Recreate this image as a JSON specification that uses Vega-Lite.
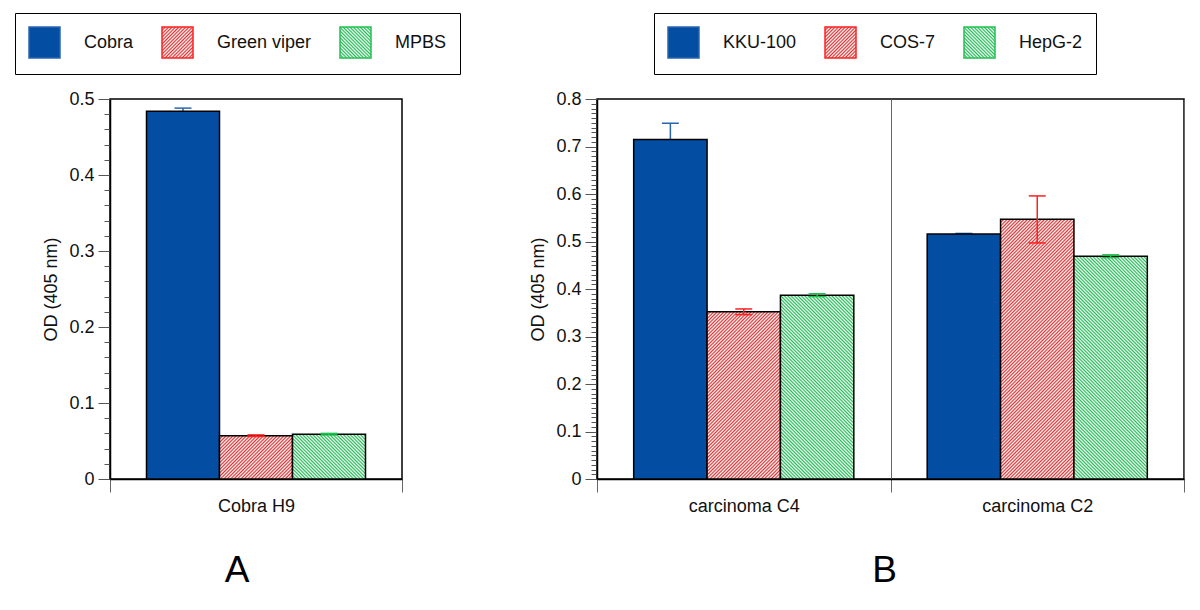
{
"$schema": "https://vega.github.io/schema/vega-lite/v6.json",
"padding": {"left": 13, "top": 11, "right": 4, "bottom": 4},
"params": [
{"name": "redS", "value": [
{"offset":0,"color":"#d33"},{"offset":0.005,"color":"#fff"},{"offset":0.01,"color":"#d33"},{"offset":0.015,"color":"#fff"},{"offset":0.02,"color":"#d33"},{"offset":0.025,"color":"#fff"},{"offset":0.03,"color":"#d33"},{"offset":0.035,"color":"#fff"},{"offset":0.04,"color":"#d33"},{"offset":0.045,"color":"#fff"},
{"offset":0.05,"color":"#d33"},{"offset":0.055,"color":"#fff"},{"offset":0.06,"color":"#d33"},{"offset":0.065,"color":"#fff"},{"offset":0.07,"color":"#d33"},{"offset":0.075,"color":"#fff"},{"offset":0.08,"color":"#d33"},{"offset":0.085,"color":"#fff"},{"offset":0.09,"color":"#d33"},{"offset":0.095,"color":"#fff"},
{"offset":0.1,"color":"#d33"},{"offset":0.105,"color":"#fff"},{"offset":0.11,"color":"#d33"},{"offset":0.115,"color":"#fff"},{"offset":0.12,"color":"#d33"},{"offset":0.125,"color":"#fff"},{"offset":0.13,"color":"#d33"},{"offset":0.135,"color":"#fff"},{"offset":0.14,"color":"#d33"},{"offset":0.145,"color":"#fff"},
{"offset":0.15,"color":"#d33"},{"offset":0.155,"color":"#fff"},{"offset":0.16,"color":"#d33"},{"offset":0.165,"color":"#fff"},{"offset":0.17,"color":"#d33"},{"offset":0.175,"color":"#fff"},{"offset":0.18,"color":"#d33"},{"offset":0.185,"color":"#fff"},{"offset":0.19,"color":"#d33"},{"offset":0.195,"color":"#fff"},
{"offset":0.2,"color":"#d33"},{"offset":0.205,"color":"#fff"},{"offset":0.21,"color":"#d33"},{"offset":0.215,"color":"#fff"},{"offset":0.22,"color":"#d33"},{"offset":0.225,"color":"#fff"},{"offset":0.23,"color":"#d33"},{"offset":0.235,"color":"#fff"},{"offset":0.24,"color":"#d33"},{"offset":0.245,"color":"#fff"},
{"offset":0.25,"color":"#d33"},{"offset":0.255,"color":"#fff"},{"offset":0.26,"color":"#d33"},{"offset":0.265,"color":"#fff"},{"offset":0.27,"color":"#d33"},{"offset":0.275,"color":"#fff"},{"offset":0.28,"color":"#d33"},{"offset":0.285,"color":"#fff"},{"offset":0.29,"color":"#d33"},{"offset":0.295,"color":"#fff"},
{"offset":0.3,"color":"#d33"},{"offset":0.305,"color":"#fff"},{"offset":0.31,"color":"#d33"},{"offset":0.315,"color":"#fff"},{"offset":0.32,"color":"#d33"},{"offset":0.325,"color":"#fff"},{"offset":0.33,"color":"#d33"},{"offset":0.335,"color":"#fff"},{"offset":0.34,"color":"#d33"},{"offset":0.345,"color":"#fff"},
{"offset":0.35,"color":"#d33"},{"offset":0.355,"color":"#fff"},{"offset":0.36,"color":"#d33"},{"offset":0.365,"color":"#fff"},{"offset":0.37,"color":"#d33"},{"offset":0.375,"color":"#fff"},{"offset":0.38,"color":"#d33"},{"offset":0.385,"color":"#fff"},{"offset":0.39,"color":"#d33"},{"offset":0.395,"color":"#fff"},
{"offset":0.4,"color":"#d33"},{"offset":0.405,"color":"#fff"},{"offset":0.41,"color":"#d33"},{"offset":0.415,"color":"#fff"},{"offset":0.42,"color":"#d33"},{"offset":0.425,"color":"#fff"},{"offset":0.43,"color":"#d33"},{"offset":0.435,"color":"#fff"},{"offset":0.44,"color":"#d33"},{"offset":0.445,"color":"#fff"},
{"offset":0.45,"color":"#d33"},{"offset":0.455,"color":"#fff"},{"offset":0.46,"color":"#d33"},{"offset":0.465,"color":"#fff"},{"offset":0.47,"color":"#d33"},{"offset":0.475,"color":"#fff"},{"offset":0.48,"color":"#d33"},{"offset":0.485,"color":"#fff"},{"offset":0.49,"color":"#d33"},{"offset":0.495,"color":"#fff"},
{"offset":0.5,"color":"#d33"},{"offset":0.505,"color":"#fff"},{"offset":0.51,"color":"#d33"},{"offset":0.515,"color":"#fff"},{"offset":0.52,"color":"#d33"},{"offset":0.525,"color":"#fff"},{"offset":0.53,"color":"#d33"},{"offset":0.535,"color":"#fff"},{"offset":0.54,"color":"#d33"},{"offset":0.545,"color":"#fff"},
{"offset":0.55,"color":"#d33"},{"offset":0.555,"color":"#fff"},{"offset":0.56,"color":"#d33"},{"offset":0.565,"color":"#fff"},{"offset":0.57,"color":"#d33"},{"offset":0.575,"color":"#fff"},{"offset":0.58,"color":"#d33"},{"offset":0.585,"color":"#fff"},{"offset":0.59,"color":"#d33"},{"offset":0.595,"color":"#fff"},
{"offset":0.6,"color":"#d33"},{"offset":0.605,"color":"#fff"},{"offset":0.61,"color":"#d33"},{"offset":0.615,"color":"#fff"},{"offset":0.62,"color":"#d33"},{"offset":0.625,"color":"#fff"},{"offset":0.63,"color":"#d33"},{"offset":0.635,"color":"#fff"},{"offset":0.64,"color":"#d33"},{"offset":0.645,"color":"#fff"},
{"offset":0.65,"color":"#d33"},{"offset":0.655,"color":"#fff"},{"offset":0.66,"color":"#d33"},{"offset":0.665,"color":"#fff"},{"offset":0.67,"color":"#d33"},{"offset":0.675,"color":"#fff"},{"offset":0.68,"color":"#d33"},{"offset":0.685,"color":"#fff"},{"offset":0.69,"color":"#d33"},{"offset":0.695,"color":"#fff"},
{"offset":0.7,"color":"#d33"},{"offset":0.705,"color":"#fff"},{"offset":0.71,"color":"#d33"},{"offset":0.715,"color":"#fff"},{"offset":0.72,"color":"#d33"},{"offset":0.725,"color":"#fff"},{"offset":0.73,"color":"#d33"},{"offset":0.735,"color":"#fff"},{"offset":0.74,"color":"#d33"},{"offset":0.745,"color":"#fff"},
{"offset":0.75,"color":"#d33"},{"offset":0.755,"color":"#fff"},{"offset":0.76,"color":"#d33"},{"offset":0.765,"color":"#fff"},{"offset":0.77,"color":"#d33"},{"offset":0.775,"color":"#fff"},{"offset":0.78,"color":"#d33"},{"offset":0.785,"color":"#fff"},{"offset":0.79,"color":"#d33"},{"offset":0.795,"color":"#fff"},
{"offset":0.8,"color":"#d33"},{"offset":0.805,"color":"#fff"},{"offset":0.81,"color":"#d33"},{"offset":0.815,"color":"#fff"},{"offset":0.82,"color":"#d33"},{"offset":0.825,"color":"#fff"},{"offset":0.83,"color":"#d33"},{"offset":0.835,"color":"#fff"},{"offset":0.84,"color":"#d33"},{"offset":0.845,"color":"#fff"},
{"offset":0.85,"color":"#d33"},{"offset":0.855,"color":"#fff"},{"offset":0.86,"color":"#d33"},{"offset":0.865,"color":"#fff"},{"offset":0.87,"color":"#d33"},{"offset":0.875,"color":"#fff"},{"offset":0.88,"color":"#d33"},{"offset":0.885,"color":"#fff"},{"offset":0.89,"color":"#d33"},{"offset":0.895,"color":"#fff"},
{"offset":0.9,"color":"#d33"},{"offset":0.905,"color":"#fff"},{"offset":0.91,"color":"#d33"},{"offset":0.915,"color":"#fff"},{"offset":0.92,"color":"#d33"},{"offset":0.925,"color":"#fff"},{"offset":0.93,"color":"#d33"},{"offset":0.935,"color":"#fff"},{"offset":0.94,"color":"#d33"},{"offset":0.945,"color":"#fff"},
{"offset":0.95,"color":"#d33"},{"offset":0.955,"color":"#fff"},{"offset":0.96,"color":"#d33"},{"offset":0.965,"color":"#fff"},{"offset":0.97,"color":"#d33"},{"offset":0.975,"color":"#fff"},{"offset":0.98,"color":"#d33"},{"offset":0.985,"color":"#fff"},{"offset":0.99,"color":"#d33"},{"offset":0.995,"color":"#fff"},
{"offset":1,"color":"#d33"}
]},
{"name": "grnS", "value": [
{"offset":0,"color":"#2b5"},{"offset":0.005,"color":"#fff"},{"offset":0.01,"color":"#2b5"},{"offset":0.015,"color":"#fff"},{"offset":0.02,"color":"#2b5"},{"offset":0.025,"color":"#fff"},{"offset":0.03,"color":"#2b5"},{"offset":0.035,"color":"#fff"},{"offset":0.04,"color":"#2b5"},{"offset":0.045,"color":"#fff"},
{"offset":0.05,"color":"#2b5"},{"offset":0.055,"color":"#fff"},{"offset":0.06,"color":"#2b5"},{"offset":0.065,"color":"#fff"},{"offset":0.07,"color":"#2b5"},{"offset":0.075,"color":"#fff"},{"offset":0.08,"color":"#2b5"},{"offset":0.085,"color":"#fff"},{"offset":0.09,"color":"#2b5"},{"offset":0.095,"color":"#fff"},
{"offset":0.1,"color":"#2b5"},{"offset":0.105,"color":"#fff"},{"offset":0.11,"color":"#2b5"},{"offset":0.115,"color":"#fff"},{"offset":0.12,"color":"#2b5"},{"offset":0.125,"color":"#fff"},{"offset":0.13,"color":"#2b5"},{"offset":0.135,"color":"#fff"},{"offset":0.14,"color":"#2b5"},{"offset":0.145,"color":"#fff"},
{"offset":0.15,"color":"#2b5"},{"offset":0.155,"color":"#fff"},{"offset":0.16,"color":"#2b5"},{"offset":0.165,"color":"#fff"},{"offset":0.17,"color":"#2b5"},{"offset":0.175,"color":"#fff"},{"offset":0.18,"color":"#2b5"},{"offset":0.185,"color":"#fff"},{"offset":0.19,"color":"#2b5"},{"offset":0.195,"color":"#fff"},
{"offset":0.2,"color":"#2b5"},{"offset":0.205,"color":"#fff"},{"offset":0.21,"color":"#2b5"},{"offset":0.215,"color":"#fff"},{"offset":0.22,"color":"#2b5"},{"offset":0.225,"color":"#fff"},{"offset":0.23,"color":"#2b5"},{"offset":0.235,"color":"#fff"},{"offset":0.24,"color":"#2b5"},{"offset":0.245,"color":"#fff"},
{"offset":0.25,"color":"#2b5"},{"offset":0.255,"color":"#fff"},{"offset":0.26,"color":"#2b5"},{"offset":0.265,"color":"#fff"},{"offset":0.27,"color":"#2b5"},{"offset":0.275,"color":"#fff"},{"offset":0.28,"color":"#2b5"},{"offset":0.285,"color":"#fff"},{"offset":0.29,"color":"#2b5"},{"offset":0.295,"color":"#fff"},
{"offset":0.3,"color":"#2b5"},{"offset":0.305,"color":"#fff"},{"offset":0.31,"color":"#2b5"},{"offset":0.315,"color":"#fff"},{"offset":0.32,"color":"#2b5"},{"offset":0.325,"color":"#fff"},{"offset":0.33,"color":"#2b5"},{"offset":0.335,"color":"#fff"},{"offset":0.34,"color":"#2b5"},{"offset":0.345,"color":"#fff"},
{"offset":0.35,"color":"#2b5"},{"offset":0.355,"color":"#fff"},{"offset":0.36,"color":"#2b5"},{"offset":0.365,"color":"#fff"},{"offset":0.37,"color":"#2b5"},{"offset":0.375,"color":"#fff"},{"offset":0.38,"color":"#2b5"},{"offset":0.385,"color":"#fff"},{"offset":0.39,"color":"#2b5"},{"offset":0.395,"color":"#fff"},
{"offset":0.4,"color":"#2b5"},{"offset":0.405,"color":"#fff"},{"offset":0.41,"color":"#2b5"},{"offset":0.415,"color":"#fff"},{"offset":0.42,"color":"#2b5"},{"offset":0.425,"color":"#fff"},{"offset":0.43,"color":"#2b5"},{"offset":0.435,"color":"#fff"},{"offset":0.44,"color":"#2b5"},{"offset":0.445,"color":"#fff"},
{"offset":0.45,"color":"#2b5"},{"offset":0.455,"color":"#fff"},{"offset":0.46,"color":"#2b5"},{"offset":0.465,"color":"#fff"},{"offset":0.47,"color":"#2b5"},{"offset":0.475,"color":"#fff"},{"offset":0.48,"color":"#2b5"},{"offset":0.485,"color":"#fff"},{"offset":0.49,"color":"#2b5"},{"offset":0.495,"color":"#fff"},
{"offset":0.5,"color":"#2b5"},{"offset":0.505,"color":"#fff"},{"offset":0.51,"color":"#2b5"},{"offset":0.515,"color":"#fff"},{"offset":0.52,"color":"#2b5"},{"offset":0.525,"color":"#fff"},{"offset":0.53,"color":"#2b5"},{"offset":0.535,"color":"#fff"},{"offset":0.54,"color":"#2b5"},{"offset":0.545,"color":"#fff"},
{"offset":0.55,"color":"#2b5"},{"offset":0.555,"color":"#fff"},{"offset":0.56,"color":"#2b5"},{"offset":0.565,"color":"#fff"},{"offset":0.57,"color":"#2b5"},{"offset":0.575,"color":"#fff"},{"offset":0.58,"color":"#2b5"},{"offset":0.585,"color":"#fff"},{"offset":0.59,"color":"#2b5"},{"offset":0.595,"color":"#fff"},
{"offset":0.6,"color":"#2b5"},{"offset":0.605,"color":"#fff"},{"offset":0.61,"color":"#2b5"},{"offset":0.615,"color":"#fff"},{"offset":0.62,"color":"#2b5"},{"offset":0.625,"color":"#fff"},{"offset":0.63,"color":"#2b5"},{"offset":0.635,"color":"#fff"},{"offset":0.64,"color":"#2b5"},{"offset":0.645,"color":"#fff"},
{"offset":0.65,"color":"#2b5"},{"offset":0.655,"color":"#fff"},{"offset":0.66,"color":"#2b5"},{"offset":0.665,"color":"#fff"},{"offset":0.67,"color":"#2b5"},{"offset":0.675,"color":"#fff"},{"offset":0.68,"color":"#2b5"},{"offset":0.685,"color":"#fff"},{"offset":0.69,"color":"#2b5"},{"offset":0.695,"color":"#fff"},
{"offset":0.7,"color":"#2b5"},{"offset":0.705,"color":"#fff"},{"offset":0.71,"color":"#2b5"},{"offset":0.715,"color":"#fff"},{"offset":0.72,"color":"#2b5"},{"offset":0.725,"color":"#fff"},{"offset":0.73,"color":"#2b5"},{"offset":0.735,"color":"#fff"},{"offset":0.74,"color":"#2b5"},{"offset":0.745,"color":"#fff"},
{"offset":0.75,"color":"#2b5"},{"offset":0.755,"color":"#fff"},{"offset":0.76,"color":"#2b5"},{"offset":0.765,"color":"#fff"},{"offset":0.77,"color":"#2b5"},{"offset":0.775,"color":"#fff"},{"offset":0.78,"color":"#2b5"},{"offset":0.785,"color":"#fff"},{"offset":0.79,"color":"#2b5"},{"offset":0.795,"color":"#fff"},
{"offset":0.8,"color":"#2b5"},{"offset":0.805,"color":"#fff"},{"offset":0.81,"color":"#2b5"},{"offset":0.815,"color":"#fff"},{"offset":0.82,"color":"#2b5"},{"offset":0.825,"color":"#fff"},{"offset":0.83,"color":"#2b5"},{"offset":0.835,"color":"#fff"},{"offset":0.84,"color":"#2b5"},{"offset":0.845,"color":"#fff"},
{"offset":0.85,"color":"#2b5"},{"offset":0.855,"color":"#fff"},{"offset":0.86,"color":"#2b5"},{"offset":0.865,"color":"#fff"},{"offset":0.87,"color":"#2b5"},{"offset":0.875,"color":"#fff"},{"offset":0.88,"color":"#2b5"},{"offset":0.885,"color":"#fff"},{"offset":0.89,"color":"#2b5"},{"offset":0.895,"color":"#fff"},
{"offset":0.9,"color":"#2b5"},{"offset":0.905,"color":"#fff"},{"offset":0.91,"color":"#2b5"},{"offset":0.915,"color":"#fff"},{"offset":0.92,"color":"#2b5"},{"offset":0.925,"color":"#fff"},{"offset":0.93,"color":"#2b5"},{"offset":0.935,"color":"#fff"},{"offset":0.94,"color":"#2b5"},{"offset":0.945,"color":"#fff"},
{"offset":0.95,"color":"#2b5"},{"offset":0.955,"color":"#fff"},{"offset":0.96,"color":"#2b5"},{"offset":0.965,"color":"#fff"},{"offset":0.97,"color":"#2b5"},{"offset":0.975,"color":"#fff"},{"offset":0.98,"color":"#2b5"},{"offset":0.985,"color":"#fff"},{"offset":0.99,"color":"#2b5"},{"offset":0.995,"color":"#fff"},
{"offset":1,"color":"#2b5"}
]}
],
"spacing": 195,
"bounds": "flush",
"resolve": {
  "scale": {"x": "independent", "y": "independent", "xOffset": "independent", "fill": "independent", "color": "independent"},
  "legend": {"fill": "independent"}
},
"hconcat": [
{
  "width": 292,
  "height": 380,
  "title": {"text": "A", "orient": "bottom", "anchor": "middle", "frame": "group", "fontSize": 37, "fontWeight": "normal", "font": "Liberation Sans", "color": "black", "offset": 38, "dx": -19},
  "data": {"values": [
    {"group": "Cobra H9", "series": "Cobra", "od": 0.484, "lo": 0.480, "hi": 0.488},
    {"group": "Cobra H9", "series": "Green viper", "od": 0.057, "lo": 0.056, "hi": 0.058},
    {"group": "Cobra H9", "series": "MPBS", "od": 0.059, "lo": 0.058, "hi": 0.060}
  ]},
  "encoding": {
    "x": {"field": "group", "type": "nominal", "scale": {"paddingInner": 0, "paddingOuter": 0},
      "axis": {"title": null, "labelAngle": 0, "tickBand": "extent", "tickSize": 13, "labelPadding": 5, "grid": false, "tickColor": "#666", "domainColor": "black", "domainWidth": 1.5}},
    "xOffset": {"field": "series", "type": "nominal", "scale": {"domain": ["Cobra", "Green viper", "MPBS"], "paddingInner": 0, "paddingOuter": 0.5}}
  },
  "layer": [
    {
      "mark": {"type": "bar"},
      "encoding": {
        "y": {"field": "od", "type": "quantitative", "scale": {"domain": [0, 0.5], "nice": false},
          "axis": {"title": "OD (405 nm)", "tickCount": 200, "values": [0,0.02,0.04,0.06,0.08,0.1,0.12,0.14,0.16,0.18,0.2,0.22,0.24,0.26,0.28,0.3,0.32,0.34,0.36,0.38,0.4,0.42,0.44,0.46,0.48,0.5],
            "labelExpr": "abs(datum.value*10-round(datum.value*10))<0.001 ? (datum.value<0.001 ? '0' : format(datum.value,'.1f')) : ''",
            "tickSize": {"condition": {"test": "abs(datum.value*10-round(datum.value*10))<0.001", "value": 12}, "value": 6},
            "labelPadding": 4, "titlePadding": 8, "grid": false, "labelOverlap": false, "labelFlush": false, "domainColor": "black", "domainWidth": 1.5, "tickColor": "#555"}},
        "fill": {"field": "series", "type": "nominal",
          "scale": {"domain": ["Cobra", "Green viper", "MPBS"], "range": ["#034ea2", {"expr": "{gradient:'linear', x1:0, y1:0, x2:5.484, y2:5.484, stops:redS}"}, {"expr": "{gradient:'linear', x1:0, y1:1, x2:5.484, y2:-4.484, stops:grnS}"}]},
          "legend": {"title": null, "legendX": -95, "legendY": -86}}
      }
    },
    {
      "transform": [{"filter": "datum.series == 'Cobra'"}],
      "mark": {"type": "rule", "strokeWidth": 1.5},
      "encoding": {
        "y": {"field": "lo", "type": "quantitative"},
        "y2": {"field": "hi"},
        "color": {"field": "series", "type": "nominal", "scale": {"domain": ["Cobra", "Green viper", "MPBS"], "range": ["#2a66b0", "#ff2020", "#20c050"]}, "legend": null}
      }
    },
    {
      "transform": [{"filter": "datum.series == 'Cobra'"}],
      "mark": {"type": "tick", "size": 17, "thickness": 1.5, "opacity": 1},
      "encoding": {
        "y": {"field": "hi", "type": "quantitative"},
        "color": {"field": "series", "type": "nominal", "legend": null}
      }
    },
    {
      "mark": {"type": "bar", "stroke": "black", "strokeWidth": 1.5},
      "encoding": {
        "y": {"field": "od", "type": "quantitative"},
        "fill": {"value": {"expr": "datum.series=='Cobra' ? '#034ea2' : {gradient:'linear', x1:0, y1:(datum.series=='MPBS' ? 1 : 0), x2:24820/(5329+pow(760*datum.od,2)), y2:(datum.series=='MPBS' ? 1-258400*datum.od/(5329+pow(760*datum.od,2)) : 258400*datum.od/(5329+pow(760*datum.od,2))), stops:(datum.series=='MPBS' ? grnS : redS)}"}}
      }
    },
    {
      "transform": [{"filter": "datum.series != 'Cobra'"}],
      "mark": {"type": "rule", "strokeWidth": 1.5},
      "encoding": {
        "y": {"field": "lo", "type": "quantitative"},
        "y2": {"field": "hi"},
        "color": {"field": "series", "type": "nominal", "legend": null}
      }
    },
    {
      "transform": [{"filter": "datum.series != 'Cobra'"}],
      "mark": {"type": "tick", "size": 17, "thickness": 1.5, "opacity": 1},
      "encoding": {
        "y": {"field": "lo", "type": "quantitative"},
        "color": {"field": "series", "type": "nominal", "legend": null}
      }
    },
    {
      "transform": [{"filter": "datum.series != 'Cobra'"}],
      "mark": {"type": "tick", "size": 17, "thickness": 1.5, "opacity": 1},
      "encoding": {
        "y": {"field": "hi", "type": "quantitative"},
        "color": {"field": "series", "type": "nominal", "legend": null}
      }
    }
  ]
},
{
  "width": 587,
  "height": 380,
  "title": {"text": "B", "orient": "bottom", "anchor": "middle", "frame": "group", "fontSize": 37, "fontWeight": "normal", "font": "Liberation Sans", "color": "black", "offset": 38, "dx": -6},
  "data": {"values": [
    {"group": "carcinoma C4", "series": "KKU-100", "od": 0.715, "lo": 0.681, "hi": 0.749},
    {"group": "carcinoma C4", "series": "COS-7", "od": 0.352, "lo": 0.346, "hi": 0.358},
    {"group": "carcinoma C4", "series": "HepG-2", "od": 0.387, "lo": 0.384, "hi": 0.390},
    {"group": "carcinoma C2", "series": "KKU-100", "od": 0.516, "lo": 0.515, "hi": 0.517},
    {"group": "carcinoma C2", "series": "COS-7", "od": 0.547, "lo": 0.497, "hi": 0.596},
    {"group": "carcinoma C2", "series": "HepG-2", "od": 0.469, "lo": 0.466, "hi": 0.472}
  ]},
  "encoding": {
    "x": {"field": "group", "type": "nominal", "sort": ["carcinoma C4", "carcinoma C2"], "scale": {"paddingInner": 0, "paddingOuter": 0},
      "axis": {"title": null, "labelAngle": 0, "tickBand": "extent", "tickSize": 13, "labelPadding": 5, "grid": true, "gridColor": "#666", "gridWidth": 1, "tickColor": "#666", "domainColor": "black", "domainWidth": 1.5}},
    "xOffset": {"field": "series", "type": "nominal", "scale": {"domain": ["KKU-100", "COS-7", "HepG-2"], "paddingInner": 0, "paddingOuter": 0.5}}
  },
  "layer": [
    {
      "mark": {"type": "bar"},
      "encoding": {
        "y": {"field": "od", "type": "quantitative", "scale": {"domain": [0, 0.8], "nice": false},
          "axis": {"title": "OD (405 nm)", "tickCount": 200, "values": [0,0.01,0.02,0.03,0.04,0.05,0.06,0.07,0.08,0.09,0.1,0.11,0.12,0.13,0.14,0.15,0.16,0.17,0.18,0.19,0.2,0.21,0.22,0.23,0.24,0.25,0.26,0.27,0.28,0.29,0.3,0.31,0.32,0.33,0.34,0.35,0.36,0.37,0.38,0.39,0.4,0.41,0.42,0.43,0.44,0.45,0.46,0.47,0.48,0.49,0.5,0.51,0.52,0.53,0.54,0.55,0.56,0.57,0.58,0.59,0.6,0.61,0.62,0.63,0.64,0.65,0.66,0.67,0.68,0.69,0.7,0.71,0.72,0.73,0.74,0.75,0.76,0.77,0.78,0.79,0.8],
            "labelExpr": "abs(datum.value*10-round(datum.value*10))<0.001 ? (datum.value<0.001 ? '0' : format(datum.value,'.1f')) : ''",
            "tickSize": {"condition": {"test": "abs(datum.value*10-round(datum.value*10))<0.001", "value": 12}, "value": 6},
            "labelPadding": 4, "titlePadding": 8, "grid": false, "labelOverlap": false, "labelFlush": false, "domainColor": "black", "domainWidth": 1.5, "tickColor": "#555"}},
        "fill": {"field": "series", "type": "nominal",
          "scale": {"domain": ["KKU-100", "COS-7", "HepG-2"], "range": ["#034ea2", {"expr": "{gradient:'linear', x1:0, y1:0, x2:5.484, y2:5.484, stops:redS}"}, {"expr": "{gradient:'linear', x1:0, y1:1, x2:5.484, y2:-4.484, stops:grnS}"}]},
          "legend": {"title": null, "legendX": 57, "legendY": -86}}
      }
    },
    {
      "transform": [{"filter": "datum.series == 'KKU-100'"}],
      "mark": {"type": "rule", "strokeWidth": 1.5},
      "encoding": {
        "y": {"field": "lo", "type": "quantitative"},
        "y2": {"field": "hi"},
        "color": {"field": "series", "type": "nominal", "scale": {"domain": ["KKU-100", "COS-7", "HepG-2"], "range": ["#2a66b0", "#ff2020", "#20c050"]}, "legend": null}
      }
    },
    {
      "transform": [{"filter": "datum.series == 'KKU-100'"}],
      "mark": {"type": "tick", "size": 17, "thickness": 1.5, "opacity": 1},
      "encoding": {
        "y": {"field": "hi", "type": "quantitative"},
        "color": {"field": "series", "type": "nominal", "legend": null}
      }
    },
    {
      "mark": {"type": "bar", "stroke": "black", "strokeWidth": 1.5},
      "encoding": {
        "y": {"field": "od", "type": "quantitative"},
        "fill": {"value": {"expr": "datum.series=='KKU-100' ? '#034ea2' : {gradient:'linear', x1:0, y1:(datum.series=='HepG-2' ? 1 : 0), x2:24947.5/(5383.9+pow(475*datum.od,2)), y2:(datum.series=='HepG-2' ? 1-161500*datum.od/(5383.9+pow(475*datum.od,2)) : 161500*datum.od/(5383.9+pow(475*datum.od,2))), stops:(datum.series=='HepG-2' ? grnS : redS)}"}}
      }
    },
    {
      "transform": [{"filter": "datum.series != 'KKU-100'"}],
      "mark": {"type": "rule", "strokeWidth": 1.5},
      "encoding": {
        "y": {"field": "lo", "type": "quantitative"},
        "y2": {"field": "hi"},
        "color": {"field": "series", "type": "nominal", "legend": null}
      }
    },
    {
      "transform": [{"filter": "datum.series != 'KKU-100'"}],
      "mark": {"type": "tick", "size": 17, "thickness": 1.5, "opacity": 1},
      "encoding": {
        "y": {"field": "lo", "type": "quantitative"},
        "color": {"field": "series", "type": "nominal", "legend": null}
      }
    },
    {
      "transform": [{"filter": "datum.series != 'KKU-100'"}],
      "mark": {"type": "tick", "size": 17, "thickness": 1.5, "opacity": 1},
      "encoding": {
        "y": {"field": "hi", "type": "quantitative"},
        "color": {"field": "series", "type": "nominal", "legend": null}
      }
    }
  ]
}
],
"config": {
  "font": "Liberation Sans",
  "view": {"stroke": "black", "strokeWidth": 1.5},
  "axis": {"labelFont": "Liberation Sans", "labelFontSize": 18, "labelColor": "#111", "titleFont": "Liberation Sans", "titleFontSize": 18, "titleFontWeight": "normal", "titleColor": "#111", "domainColor": "black", "domainWidth": 1.5, "tickColor": "#555", "tickWidth": 1},
  "legend": {"orient": "none", "direction": "horizontal", "padding": 13, "strokeColor": "black", "fillColor": "white", "symbolType": "square", "symbolSize": 961, "symbolStrokeColor": "black", "symbolStrokeWidth": 1.5, "symbolOpacity": 1, "labelFont": "Liberation Sans", "labelFontSize": 18, "labelColor": "#111", "labelOffset": 23, "columnPadding": 25, "labelLimit": 300}
}
}
